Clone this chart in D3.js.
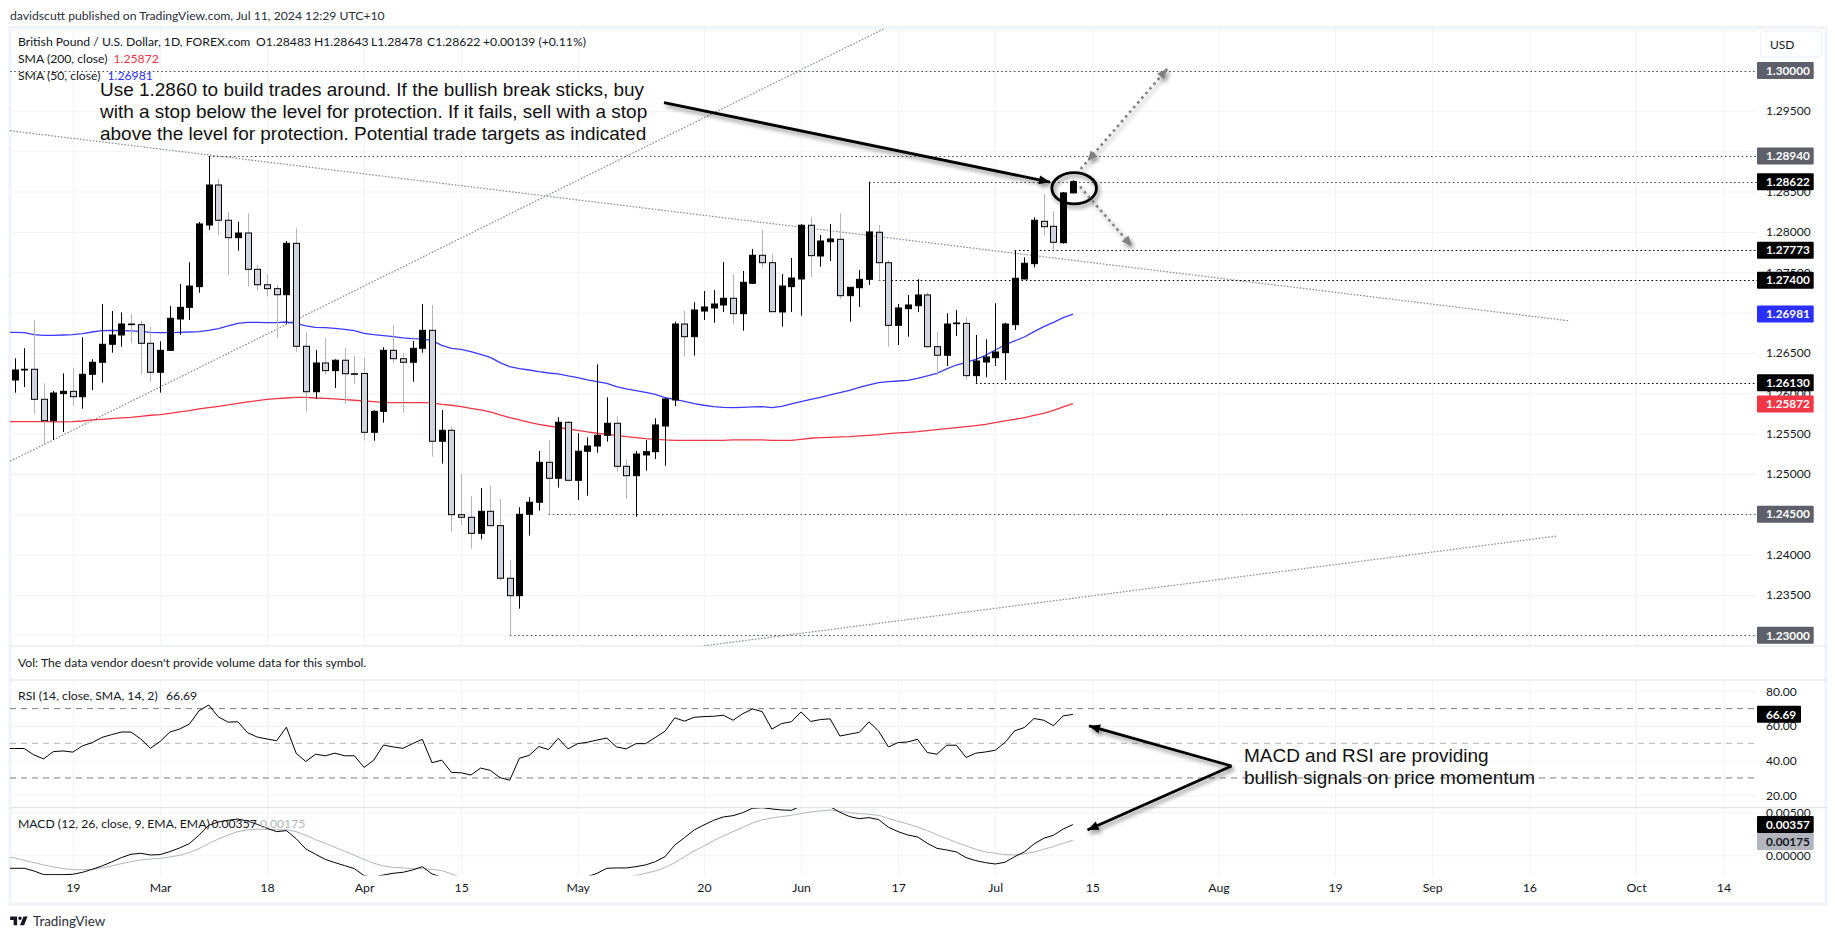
<!DOCTYPE html>
<html lang="en">
<head>
<meta charset="UTF-8">
<title>GBPUSD</title>
<script src="https://d3js.org/d3.v7.min.js"></script>
<style>
  body { margin: 0; background: #fff; }
  svg { display: block; }
  text { font-family: "Lato", sans-serif; fill: #131722; }
  .note { font-family: "Liberation Sans", Arial, sans-serif; font-size: 18.98px; fill: #111; }
</style>
</head>
<body>
<script>
// daily bars, Feb 9 to Jul 11 2024
var open = [1.26164,1.26288,1.26297,1.25925,1.25660,1.25995,1.26024,1.25957,1.26235,1.26384,
  1.26607,1.26722,1.26858,1.26850,1.26619,1.26260,1.26532,1.26920,1.27065,1.27321,
  1.28085,1.28581,1.28144,1.27928,1.27986,1.27536,1.27345,1.27296,1.27221,1.27858,
  1.26582,1.26019,1.26375,1.26280,1.26409,1.26242,1.26245,1.25516,1.25776,1.26532,
  1.26428,1.26384,1.26557,1.26780,1.25405,1.25541,1.24495,1.24463,1.24264,1.24537,
  1.24359,1.23707,1.23491,1.24500,1.24649,1.25144,1.24946,1.25640,1.24921,1.25281,
  1.25346,1.25479,1.25628,1.25095,1.24978,1.25235,1.25276,1.25594,1.25917,1.26858,
  1.26701,1.27019,1.27057,1.27094,1.27177,1.26986,1.27363,1.27710,1.27618,1.27007,
  1.27321,1.27416,1.28082,1.27701,1.27878,1.27908,1.27209,1.27308,1.27412,1.27995,
  1.27618,1.26842,1.27048,1.27085,1.27218,1.26577,1.26471,1.26862,1.26866,1.26218,
  1.26387,1.26441,1.26503,1.26850,1.27416,1.27606,1.28131,1.28069,1.27866,1.28483];
var high = [1.26433,1.26557,1.26908,1.26123,1.26028,1.26247,1.26309,1.26694,1.26421,1.27106,
  1.27019,1.27003,1.26982,1.26899,1.26825,1.26644,1.27081,1.27354,1.27623,1.28122,
  1.28940,1.28655,1.28246,1.28126,1.28230,1.27590,1.27478,1.27342,1.27887,1.28044,
  1.26756,1.26536,1.26689,1.26421,1.26561,1.26462,1.26437,1.25793,1.26570,1.26846,
  1.26495,1.26648,1.27106,1.27094,1.25793,1.25586,1.25003,1.24727,1.24826,1.24851,
  1.24690,1.23934,1.24587,1.24711,1.25284,1.25421,1.25702,1.25656,1.25504,1.25454,
  1.26359,1.25950,1.25710,1.25182,1.25284,1.25421,1.25690,1.25941,1.26887,1.27019,
  1.27127,1.27267,1.27280,1.27627,1.27478,1.27515,1.27788,1.28023,1.27726,1.27478,
  1.27676,1.28098,1.28188,1.27961,1.28098,1.28230,1.27313,1.27528,1.28622,1.28085,
  1.27652,1.27106,1.27218,1.27412,1.27251,1.26759,1.26991,1.27032,1.26941,1.26722,
  1.26669,1.27115,1.26874,1.27773,1.27685,1.28181,1.28469,1.28255,1.28494,1.28643];
var low = [1.26007,1.26078,1.25743,1.25359,1.25421,1.25520,1.25846,1.25809,1.26040,1.26131,
  1.26503,1.26577,1.26619,1.26230,1.26143,1.26007,1.26527,1.26726,1.26908,1.27246,
  1.28023,1.27961,1.27466,1.27767,1.27321,1.27271,1.27197,1.26689,1.26858,1.26515,
  1.25771,1.25929,1.26230,1.26065,1.25867,1.26115,1.25412,1.25412,1.25635,1.26371,
  1.25759,1.26143,1.26503,1.25214,1.25127,1.24284,1.24367,1.24074,1.24190,1.24346,
  1.23677,1.23000,1.23330,1.24235,1.24545,1.24500,1.24830,1.24915,1.24677,1.24730,
  1.25263,1.25400,1.25028,1.24690,1.24470,1.25040,1.25185,1.25102,1.25842,1.26453,
  1.26466,1.26908,1.26874,1.27007,1.26858,1.26775,1.27354,1.27556,1.27008,1.26825,
  1.27007,1.26961,1.27441,1.27568,1.27639,1.27168,1.26887,1.27069,1.27342,1.27395,
  1.26577,1.26598,1.26701,1.27007,1.26565,1.26226,1.26338,1.26710,1.26164,1.26130,
  1.26198,1.26338,1.26164,1.26784,1.27412,1.27561,1.27949,1.27788,1.27854,1.28478];
var close = [1.26288,1.26297,1.25925,1.25660,1.26003,1.26024,1.25957,1.26235,1.26384,1.26607,
  1.26722,1.26858,1.26850,1.26619,1.26260,1.26532,1.26929,1.27065,1.27329,1.28098,
  1.28581,1.28144,1.27928,1.27986,1.27536,1.27345,1.27296,1.27221,1.27858,1.26582,
  1.26019,1.26375,1.26280,1.26409,1.26242,1.26240,1.25516,1.25776,1.26532,1.26428,
  1.26384,1.26557,1.26780,1.25405,1.25541,1.24495,1.24463,1.24264,1.24537,1.24359,
  1.23707,1.23491,1.24500,1.24649,1.25144,1.24946,1.25640,1.24921,1.25281,1.25346,
  1.25479,1.25628,1.25095,1.24978,1.25247,1.25276,1.25607,1.25929,1.26858,1.26701,
  1.27032,1.27069,1.27106,1.27177,1.26986,1.27375,1.27710,1.27618,1.27011,1.27329,
  1.27428,1.28082,1.27705,1.27887,1.27912,1.27209,1.27313,1.27412,1.27999,1.27618,
  1.26842,1.27057,1.27094,1.27218,1.26577,1.26471,1.26858,1.26871,1.26218,1.26400,
  1.26449,1.26511,1.26858,1.27425,1.27611,1.28144,1.28064,1.27871,1.28483,1.28622];

var sma50 = [1.26755,1.26751,1.26726,1.26718,1.26718,1.26722,1.26726,1.26739,1.26759,1.26776,
  1.26780,1.26776,1.26772,1.26768,1.26755,1.26751,1.26751,1.26755,1.26759,1.26764,
  1.26780,1.26801,1.26834,1.26867,1.26879,1.26879,1.26875,1.26875,1.26883,1.26867,
  1.26834,1.26817,1.26813,1.26805,1.26792,1.26776,1.26743,1.26726,1.26714,1.26702,
  1.26685,1.26677,1.26673,1.26652,1.26594,1.26557,1.26545,1.26516,1.26483,1.26445,
  1.26379,1.26330,1.26305,1.26288,1.26268,1.26251,1.26239,1.26214,1.26194,1.26165,
  1.26144,1.26123,1.26082,1.26053,1.26032,1.26012,1.25987,1.25946,1.25925,1.25900,
  1.25871,1.25851,1.25834,1.25826,1.25822,1.25826,1.25830,1.25834,1.25822,1.25838,
  1.25867,1.25896,1.25925,1.25950,1.25979,1.26008,1.26037,1.26074,1.26103,1.26132,
  1.26144,1.26152,1.26160,1.26185,1.26214,1.26247,1.26301,1.26350,1.26383,1.26421,
  1.26470,1.26536,1.26598,1.26648,1.26697,1.26764,1.26825,1.26879,1.26937,1.26981];
var sma200 = [1.25648,1.25648,1.25648,1.25648,1.25644,1.25644,1.25648,1.25656,1.25669,1.25677,
  1.25685,1.25694,1.25702,1.25714,1.25727,1.25735,1.25751,1.25768,1.25785,1.25805,
  1.25822,1.25838,1.25855,1.25875,1.25892,1.25908,1.25925,1.25933,1.25941,1.25950,
  1.25950,1.25941,1.25937,1.25929,1.25921,1.25913,1.25904,1.25896,1.25888,1.25884,
  1.25884,1.25884,1.25884,1.25880,1.25863,1.25851,1.25834,1.25813,1.25793,1.25768,
  1.25731,1.25698,1.25669,1.25640,1.25615,1.25594,1.25578,1.25557,1.25541,1.25520,
  1.25504,1.25491,1.25479,1.25462,1.25450,1.25438,1.25429,1.25421,1.25417,1.25417,
  1.25417,1.25417,1.25417,1.25417,1.25421,1.25421,1.25421,1.25421,1.25417,1.25417,
  1.25417,1.25429,1.25442,1.25450,1.25454,1.25458,1.25462,1.25471,1.25479,1.25487,
  1.25500,1.25508,1.25516,1.25524,1.25537,1.25549,1.25561,1.25574,1.25586,1.25599,
  1.25615,1.25636,1.25657,1.25677,1.25698,1.25727,1.25751,1.25789,1.25830,1.25872];

var rsi = [47,47,43.3,41,45.2,45.6,44.9,48.5,50.4,53.4,
  55,56.5,56.5,52.5,47.1,51.1,56.5,58.2,61,68.7,
  72.1,65.2,62.2,62.4,56.1,53.6,52.5,51.5,59.3,44.3,
  39.5,43.7,42.8,44.3,42.8,42.8,36.1,40.3,49,47.9,
  47.1,49.8,52.3,38.8,40.3,33.2,33,31.7,35.7,34.4,
  30.2,28.7,41.4,43,48.1,46.4,52.9,46.8,49.8,50.6,
  51.9,53,47.9,46.8,49.8,49.8,53.4,57,64.7,62.8,
  65,65.4,65.6,66.2,63.3,67.1,69.8,68.3,58.2,61.4,
  62.4,68.1,62.6,63.7,64.1,54.2,55.3,56.3,62.4,57,
  47.9,50.4,50.8,52.3,44.7,43.7,48.9,48.9,41.8,44.3,
  45,46,50.4,57.2,59.1,64.3,63.3,60.1,65.8,66.69];
var macd = [-.00151,-.00151,-.00182,-.00225,-.00225,-.00225,-.00221,-.00198,-.00163,-.00124,
  -.00078,-.00027,.00012,.00023,.00004,.00008,.00043,.00085,.00136,.00233,
  .00349,.00388,.00407,.00422,.00399,.00360,.00314,.00275,.00287,.00194,
  .00074,.00012,-.00047,-.00085,-.00120,-.00155,-.00236,-.00256,-.00229,-.00209,
  -.00198,-.00171,-.00132,-.00217,-.00256,-.00326,-.00345,-.00375,-.00385,-.00395,
  -.00425,-.00465,-.00440,-.00410,-.00370,-.00340,-.00310,-.00300,-.00285,-.00250,
  -.00209,-.00151,-.00147,-.00147,-.00132,-.00112,-.00074,-.00016,.00120,.00205,
  .00295,.00353,.00407,.00446,.00461,.00496,.00547,.00554,.00539,.00527,
  .00523,.00574,.00585,.00585,.00566,.00500,.00450,.00426,.00438,.00415,
  .00326,.00275,.00236,.00213,.00140,.00081,.00062,.00039,-.00027,-.00062,
  -.00085,-.00101,-.00081,-.00016,.00039,.00132,.00198,.00233,.00306,.00357];
var signal = [-.00031,-.00058,-.00085,-.00112,-.00136,-.00155,-.00167,-.00167,-.00163,-.00147,
  -.00124,-.00097,-.00074,-.00054,-.00043,-.00035,-.00019,0,.00031,.00078,
  .00136,.00190,.00236,.00275,.00295,.00302,.00302,.00298,.00298,.00275,
  .00233,.00182,.00140,.00093,.00047,0,-.00047,-.00093,-.00124,-.00140,
  -.00147,-.00155,-.00155,-.00163,-.00178,-.00217,-.00256,-.00285,-.00310,-.00330,
  -.00345,-.00370,-.00390,-.00390,-.00390,-.00385,-.00370,-.00355,-.00340,-.00320,
  -.00305,-.00290,-.00270,-.00255,-.00236,-.00209,-.00182,-.00143,-.00085,-.00016,
  .00050,.00109,.00171,.00225,.00275,.00326,.00376,.00411,.00434,.00450,
  .00465,.00485,.00504,.00516,.00527,.00512,.00496,.00485,.00477,.00465,
  .00430,.00395,.00364,.00329,.00287,.00240,.00194,.00151,.00109,.00070,
  .00039,.00023,.00008,.00004,.00016,.00039,.00070,.00101,.00140,.00175];

// one bar before the first candle, cut off by the pane edge
var leadSma50 = 1.26755, leadSma200 = 1.25648, leadRsi = 47, leadMacd = -.00151, leadSignal = -.00019;

var tickBars = [6,15,26,36,46,58,71,81,91,101,111,124,136,146,156,167,176];
var tickLabels = ["19","Mar","18","Apr","15","May","20","Jun","17","Jul","15","Aug","19","Sep","16","Oct","14"];
var priceTicks = [1.23,1.235,1.24,1.245,1.25,1.255,1.26,1.265,1.27,1.275,1.28,1.285,1.29,1.295,1.30];
var rsiTicks = [20,40,60,80];
var macdTicks = [0,.005];

// horizontal levels: price and the bar each starts on
var levelPrices = [1.30,1.2894,1.28622,1.27773,1.274,1.2613,1.245,1.23];
var levelStart = [-1,20,88,103,89,99,55,51];
var greyLevels = [1.30,1.2894,1.245,1.23];

// trend lines as [bar, price] pairs
var trendA = [[-0.46,1.29254],[160,1.26899]];
var trendB = [[-0.46,1.25157],[89.75,1.3053]];
var trendC = [[71,1.2287],[158.9,1.24231]];

// drawings
var mainArrow = [[66.89,1.29601],[106.64,1.28618]];
var upArrow = [[109.8,1.28779],[118.7,1.30019]];
var downArrow = [[109.73,1.2856],[115.06,1.27825]];
var circled = [109.13,1.2854];

var noteLines = ["Use 1.2860 to build trades around. If the bullish break sticks, buy",
  "with a stop below the level for protection. If it fails, sell with a stop",
  "above the level for protection. Potential trade targets as indicated"];
var note2Lines = ["MACD and RSI are providing","bullish signals on price momentum"];

var W = 1835, H = 939, left = 10, right = 1757, outer = 1826;
var x = d3.scaleLinear().domain([0,109]).range([14.5,1072.9]);
var y = d3.scaleLinear().domain([1.23,1.30]).range([635.3,70.5]);
var yRsi = d3.scaleLinear().domain([20,80]).range([795.3,691.3]);
var yMacd = d3.scaleLinear().domain([0,.005]).range([855.3,812.3]);

var svg = d3.select("body").append("svg").attr("width",W).attr("height",H);
var defs = svg.append("defs");
function clip(id,y0,y1){
  defs.append("clipPath").attr("id",id).append("rect")
    .attr("x",left).attr("y",y0).attr("width",right-left).attr("height",y1-y0);
}
clip("cMain",29,646); clip("cRsi",680,807.5); clip("cMacd",808,875.5);
var sh = defs.append("filter").attr("id","shadow").attr("x","-30%").attr("y","-30%").attr("width","160%").attr("height","160%");
sh.append("feDropShadow").attr("dx",2).attr("dy",3).attr("stdDeviation",2).attr("flood-color","#000").attr("flood-opacity",.45);

var lineC = "#e0e3eb", gridC = "#f2f3f6";

// vertical grid, through an axis
function vgrid(y0,y1){
  var g = svg.append("g").attr("transform","translate(0,"+y1+")")
    .call(d3.axisBottom(x).tickValues(tickBars).tickSize(y0-y1).tickFormat(""));
  g.select(".domain").remove();
  g.selectAll("line").attr("stroke",gridC);
}
vgrid(29,646); vgrid(680,875.5);

// horizontal grid
function hgrid(scale,vals){
  var g = svg.append("g").attr("transform","translate("+left+",0)")
    .call(d3.axisRight(scale).tickValues(vals).tickSize(right-left).tickFormat(""));
  g.select(".domain").remove();
  g.selectAll("line").attr("stroke",gridC);
}
hgrid(y,priceTicks.concat([1.305]));
hgrid(yRsi,rsiTicks);
hgrid(yMacd,macdTicks);

// pane frame
var frame = svg.append("g");
frame.append("rect").attr("x",left).attr("y",27.5).attr("width",outer-left).attr("height",904-27.5)
  .attr("fill","none").attr("stroke","#f0f3fa").attr("stroke-width",3);
[646,680,807.7].forEach(function(v){
  frame.append("line").attr("x1",left).attr("x2",outer).attr("y1",v).attr("y2",v)
    .attr("stroke",lineC).attr("stroke-width",1.2);
});

// RSI bands
[70,50,30].forEach(function(v){
  svg.append("line").attr("x1",left).attr("x2",right).attr("y1",yRsi(v)).attr("y2",yRsi(v))
    .attr("stroke",v==50?"#b2b5be":"#787b86").attr("stroke-dasharray","6 5");
});

// x labels
var xAxis = svg.append("g").attr("transform","translate(0,876)")
  .call(d3.axisBottom(x).tickValues(tickBars).tickSize(0).tickPadding(7).tickFormat(function(d,i){return tickLabels[i];}));
xAxis.select(".domain").remove();
xAxis.selectAll("text").style("font-family","Lato").style("font-size","12.3px").attr("fill","#131722");

// price scale labels
function yLabels(scale,vals,fmt){
  var g = svg.append("g").attr("transform","translate("+right+",0)")
    .call(d3.axisRight(scale).tickValues(vals).tickSize(0).tickPadding(9).tickFormat(fmt));
  g.select(".domain").remove();
  g.selectAll("text").style("font-family","Lato").style("font-size","12px").attr("fill","#131722");
}
yLabels(y,priceTicks,d3.format(".5f"));
yLabels(yRsi,rsiTicks,d3.format(".2f"));
yLabels(yMacd,macdTicks,d3.format(".5f"));

// trend lines
var main = svg.append("g").attr("clip-path","url(#cMain)");
var seg = d3.line().x(function(d){return x(d[0]);}).y(function(d){return y(d[1]);});
[trendA,trendB,trendC].forEach(function(t){
  main.append("path").attr("d",seg(t)).attr("fill","none").attr("stroke","#8a8d96")
    .attr("stroke-width",1.2).attr("stroke-dasharray","1.6 1.6");
});

// levels
levelPrices.forEach(function(p,i){
  var grey = greyLevels.indexOf(p)>=0 || p==1.28622;
  main.append("line").attr("x1",Math.max(x(levelStart[i]),left)).attr("x2",right)
    .attr("y1",Math.round(y(p))+.5).attr("y2",Math.round(y(p))+.5)
    .attr("stroke",grey?"#50535e":"#000").attr("stroke-width",1.1).attr("stroke-dasharray","1.6 2.6");
});

// moving averages
function indexed(lead,arr){ return [[-1,lead]].concat(arr.map(function(v,i){return [i,v];})); }
main.append("path").attr("d",seg(indexed(leadSma50,sma50))).attr("fill","none").attr("stroke","#3a3aff").attr("stroke-width",1.3);
main.append("path").attr("d",seg(indexed(leadSma200,sma200))).attr("fill","none").attr("stroke","#f23645").attr("stroke-width",1.3);

// candles
var bars = close.map(function(c,i){ return {i:i,o:open[i],h:high[i],l:low[i],c:c,up:c>=open[i]}; });
var candle = main.selectAll("g.c").data(bars).enter().append("g").attr("class","c");
candle.append("line")
  .attr("x1",function(d){return Math.round(x(d.i))+.5;}).attr("x2",function(d){return Math.round(x(d.i))+.5;})
  .attr("y1",function(d){return y(d.h);}).attr("y2",function(d){return y(d.l);})
  .attr("stroke",function(d){return d.up?"#000":"#b2b5be";}).attr("stroke-width",1);
candle.append("rect")
  .attr("x",function(d){return Math.round(x(d.i))-2.5;}).attr("width",6)
  .attr("y",function(d){return y(Math.max(d.o,d.c));})
  .attr("height",function(d){return Math.max(Math.abs(y(d.o)-y(d.c)),.6);})
  .attr("fill",function(d){return d.up?"#000":"#d1d4dc";})
  .attr("stroke","#000").attr("stroke-width",1);

// RSI and MACD lines
var rsiLine = d3.line().x(function(d){return x(d[0]);}).y(function(d){return yRsi(d[1]);});
var macdLine = d3.line().x(function(d){return x(d[0]);}).y(function(d){return yMacd(d[1]);});
svg.append("path").attr("clip-path","url(#cRsi)").attr("d",rsiLine(indexed(leadRsi,rsi))).attr("fill","none").attr("stroke","#000").attr("stroke-width",1);
var mg = svg.append("g").attr("clip-path","url(#cMacd)");
mg.append("path").attr("d",macdLine(indexed(leadSignal,signal))).attr("fill","none").attr("stroke","#b2b5be").attr("stroke-width",1);
mg.append("path").attr("d",macdLine(indexed(leadMacd,macd))).attr("fill","none").attr("stroke","#000").attr("stroke-width",1);

// value boxes at the right
function tag(py,txt,fill,color,w){
  svg.append("rect").attr("x",right).attr("y",py-8.5).attr("width",w||56.7).attr("height",17).attr("rx",1).attr("fill",fill);
  svg.append("text").attr("x",right+9).attr("y",py+4.2).attr("font-size",11.8).attr("font-weight",700).style("fill",color).text(txt);
}
levelPrices.forEach(function(p){
  var grey = greyLevels.indexOf(p)>=0;
  tag(y(p),d3.format(".5f")(p),grey?"#5d606b":"#000","#fff");
});
tag(y(sma50[109]),d3.format(".5f")(sma50[109]),"#2a2eff","#fff");
tag(y(sma200[109])+0.5,d3.format(".5f")(sma200[109]),"#f23645","#fff");
tag(yRsi(rsi[109]),rsi[109].toFixed(2),"#000","#fff",44);
tag(yMacd(macd[109]),macd[109].toFixed(5),"#000","#fff");
tag(yMacd(signal[109])+1.3,signal[109].toFixed(5),"#b2b5be","#131722");

// currency box
svg.append("rect").attr("x",1760.5).attr("y",31).attr("width",61).attr("height",26).attr("rx",4)
  .attr("fill","#fff").attr("stroke","#f0f3fa").attr("stroke-width",1.4);
svg.append("text").attr("x",1770).attr("y",49).attr("font-size",12).text("USD");

// legends
function label(px,py,txt,color){
  return svg.append("text").attr("x",px).attr("y",py).attr("font-size",12.2).style("fill",color||"#131722").text(txt);
}
label(10,19.5,"davidscutt published on TradingView.com, Jul 11, 2024 12:29 UTC+10","#2a2e39");
label(18,46,"British Pound / U.S. Dollar, 1D, FOREX.com");
label(256,46,"O1.28483"); label(314,46,"H1.28643"); label(371,46,"L1.28478"); label(427,46,"C1.28622");
label(483,46,"+0.00139 (+0.11%)");
label(18,63,"SMA (200, close)"); label(113.5,63,"1.25872","#f23645");
label(18,80,"SMA (50, close)"); label(107.5,80,"1.26981","#2a2eff");
label(18,666.5,"Vol: The data vendor doesn't provide volume data for this symbol.");
label(18,700,"RSI (14, close, SMA, 14, 2)"); label(166,700,"66.69");
label(18,827.5,"MACD (12, 26, close, 9, EMA, EMA)"); label(211.5,827.5,"0.00357"); label(260,827.5,"0.00175","#b2b5be");

// logo
svg.append("path").attr("transform","translate(9,913) scale(.58)")
  .attr("d","M14 6H2v6h6v9h6V6zm12 15h-7l6-15h7l-6 15zm-7-9a3 3 0 1 0 0-6 3 3 0 0 0 0 6z").attr("fill","#131722");
label(33,926,"TradingView","#2a2e39").attr("font-size",13.4);

// drawings with shadow
var ann = svg.append("g").attr("filter","url(#shadow)");
function head(g,p0,p1,len,wid,color){
  var a = Math.atan2(p1[1]-p0[1],p1[0]-p0[0]);
  var bx = p1[0]-len*Math.cos(a), by = p1[1]-len*Math.sin(a);
  var nx = -Math.sin(a)*wid/2, ny = Math.cos(a)*wid/2;
  g.append("path").attr("d",d3.line()([p1,[bx+nx,by+ny],[bx-nx,by-ny]])+"Z").attr("fill",color);
}
function solidArrow(p0,p1){
  ann.append("line").attr("x1",p0[0]).attr("y1",p0[1]).attr("x2",p1[0]).attr("y2",p1[1])
    .attr("stroke","#000").attr("stroke-width",2.8);
  head(ann,p0,p1,11,9,"#000");
}
function px(d){ return [x(d[0]),y(d[1])]; }
solidArrow(px(mainArrow[0]),px(mainArrow[1]));

ann.append("ellipse").attr("cx",x(circled[0])).attr("cy",y(circled[1])).attr("rx",22.3).attr("ry",15.6)
  .attr("fill","none").attr("stroke","#000").attr("stroke-width",2.8);

function dotArrow(d,extra){
  var p0 = px(d[0]), p1 = px(d[1]);
  ann.append("line").attr("x1",p0[0]).attr("y1",p0[1]).attr("x2",p1[0]).attr("y2",p1[1])
    .attr("stroke","#808080").attr("stroke-width",2.6).attr("stroke-dasharray","2.6 3.6");
  head(ann,p0,p1,10,9,"#808080");
  if(extra){ // second head part way along
    var t = extra;
    head(ann,p1,[p0[0]+(p1[0]-p0[0])*t,p0[1]+(p1[1]-p0[1])*t],10,9,"#808080");
  }
}
dotArrow(upArrow,.08);
dotArrow(downArrow);

// arrows from the second note, one tip in each lower pane
var apex = [x(125.34),yRsi(36.9)];
solidArrow(apex,[x(110.66),yRsi(60)]);
solidArrow(apex,[x(110.5),yMacd(.00294)]);

// notes
noteLines.forEach(function(t,i){
  svg.append("text").attr("class","note").attr("x",100).attr("y",96+i*22).text(t);
});
note2Lines.forEach(function(t,i){
  svg.append("text").attr("class","note").attr("x",1244).attr("y",762+i*22).text(t);
});
</script>
</body>
</html>
